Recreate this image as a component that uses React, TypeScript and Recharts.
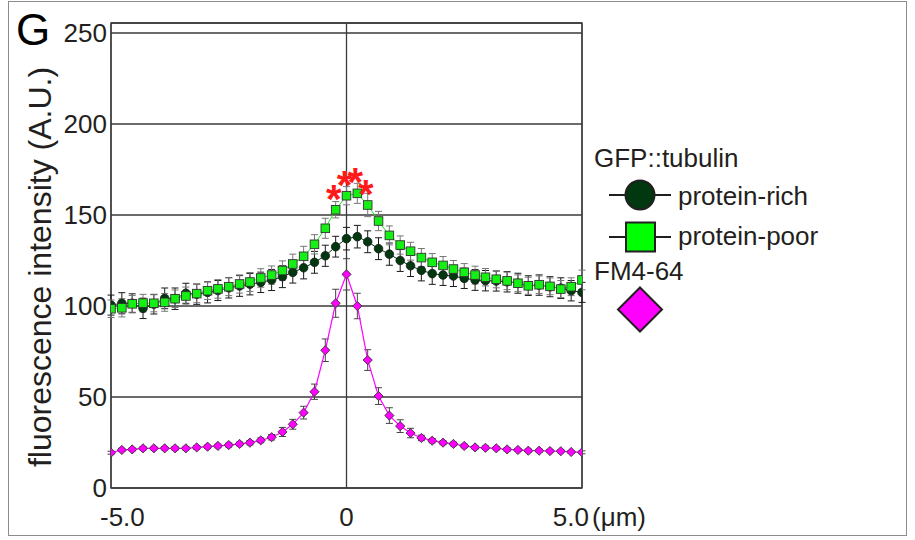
import {
  CartesianGrid,
  ComposedChart,
  ErrorBar,
  LabelList,
  Line,
  ReferenceArea,
  XAxis,
  YAxis,
} from "recharts";

// distance from the membrane (µm), 45 sampling points
const xs = [
  -5.0, -4.77, -4.55, -4.32, -4.09, -3.86, -3.64, -3.41, -3.18, -2.95, -2.73,
  -2.5, -2.27, -2.05, -1.82, -1.59, -1.36, -1.14, -0.91, -0.68, -0.45, -0.23,
  0, 0.23, 0.45, 0.68, 0.91, 1.14, 1.36, 1.59, 1.82, 2.05, 2.27, 2.5, 2.73,
  2.95, 3.18, 3.41, 3.64, 3.86, 4.09, 4.32, 4.55, 4.77, 5.0,
];

// GFP::tubulin, protein-rich
const rich = [
  100.5, 101.5, 101.5, 98.7, 101, 104.2, 104, 107, 106.5, 107.5, 108.5, 110,
  111, 112, 113, 114.3, 116.1, 118.5, 121, 124, 127.6, 132.6, 137, 138.1,
  135.3, 131.5, 128.5, 125, 122.1, 119.6, 117.8, 117, 116.5, 115.2, 114.3,
  113.9, 113.7, 113.3, 112.5, 111.2, 111.5, 110.6, 109.8, 108.4, 107.5,
];
const richErr = [
  5.5, 5.8, 5.2, 5.6, 5.4, 5.7, 5.9, 5.5, 5.6, 5.8, 5.5, 5.6, 5.7, 5.9, 5.6,
  5.8, 6.0, 5.9, 6.1, 6.0, 5.8, 5.7, 6.2, 6.2, 6.0, 6.0, 6.1, 6.0, 5.9, 5.8,
  5.9, 5.7, 5.8, 5.6, 5.7, 5.6, 5.5, 5.6, 5.5, 5.4, 5.6, 5.5, 5.7, 5.6, 5.5,
];

// GFP::tubulin, protein-poor
const poor = [
  98.5, 99, 101.2, 101.6, 101.5, 102, 104, 105.5, 106.8, 108.4, 109.4, 110.6,
  112.1, 113.2, 115.4, 117, 119.5, 123.1, 127.3, 133.9, 142.7, 152.9, 160.6,
  161.9, 155.5, 146.7, 138.8, 133.5, 130.1, 126.6, 124, 122.3, 120.3, 118.5,
  117, 115.8, 114.7, 113.8, 112.5, 111.1, 111.7, 110.8, 109.3, 110.6, 114.3,
];
const poorErr = [
  4.8, 5.0, 4.6, 4.8, 4.7, 4.9, 4.8, 4.9, 5.0, 4.8, 5.1, 4.9, 5.0, 5.2, 5.1,
  5.0, 5.3, 5.4, 5.5, 5.3, 5.5, 4.5, 5.0, 5.5, 6.4, 5.3, 5.2, 5.0, 4.9, 5.0,
  4.8, 4.9, 4.7, 4.8, 4.9, 4.8, 4.7, 4.8, 4.6, 4.7, 4.8, 4.6, 4.7, 4.9, 5.4,
];

// FM4-64
const fm = [
  19.4, 20.9, 21.2, 21.8, 21.8, 21.8, 21.8, 21.8, 22.3, 22.7, 23.1, 23.6, 24.2,
  24.9, 26.2, 27.9, 30.8, 35.0, 41.4, 52.9, 75.7, 101.5, 117.4, 100.0, 70.3,
  50.5, 39.8, 34.0, 30.2, 27.5, 26.0, 24.9, 24.2, 23.1, 22.3, 22.1, 21.8, 21.2,
  20.9, 20.5, 20.5, 20.3, 20.2, 19.8, 19.6,
];
const fmErr = [
  0.8, 0.9, 0.8, 0.9, 0.8, 0.9, 1.0, 0.9, 1.0, 0.9, 1.0, 1.1, 1.0, 1.2, 1.3,
  1.5, 2.5, 2.7, 3.5, 4.2, 6.2, 7.7, 8.6, 7.0, 5.7, 4.6, 4.3, 3.5, 2.6, 1.5,
  1.2, 1.1, 1.0, 1.0, 0.9, 1.0, 0.9, 0.9, 0.8, 0.9, 0.8, 0.9, 0.8, 0.8, 0.8,
];

// significance marks over protein-poor points
const starAt = [-0.23, 0, 0.23, 0.45];

const xTicks = [-5, 0, 5];
const yTicks = [0, 50, 100, 150, 200, 250];

const rows = xs.map((x, i) => ({
  x,
  rich: rich[i],
  richErr: richErr[i],
  poor: poor[i],
  poorErr: poorErr[i],
  fm: fm[i],
  fmErr: fmErr[i],
  sig: starAt.includes(x) ? "*" : "",
}));

const FONT = "'Liberation Sans', Arial, Helvetica, sans-serif";
const INK = "#231f20";
const GRID = "#3a3a3a";

const DarkDot = (p: any) => (
  <circle cx={p.cx} cy={p.cy} r={4.3} fill="#013810" stroke="#1a1a1a" strokeWidth={0.8} />
);
const GreenDot = (p: any) => (
  <rect x={p.cx - 4.3} y={p.cy - 4.3} width={8.6} height={8.6} fill="#14f014" stroke="#333" strokeWidth={0.9} />
);
const PinkDot = (p: any) => (
  <polygon
    points={`${p.cx},${p.cy - 4.6} ${p.cx + 4.6},${p.cy} ${p.cx},${p.cy + 4.6} ${p.cx - 4.6},${p.cy}`}
    fill="#ff00ff"
    stroke="#333"
    strokeWidth={0.9}
  />
);

function XTick({ x, y, payload }: any) {
  const v = payload.value;
  const anchor = v < 0 ? "start" : v > 0 ? "end" : "middle";
  const tx = v < 0 ? x - 11 : v > 0 ? x + 7 : x;
  return (
    <text x={tx} y={y + 38} textAnchor={anchor} fontSize={26} fill={INK} fontFamily={FONT}>
      {v === 0 ? "0" : v.toFixed(1)}
    </text>
  );
}

function Star({ x, y, value }: any) {
  if (!value) return null;
  return (
    <text x={x - 2} y={y + 3} textAnchor="middle" fontSize={40} fontWeight="bold" fill="#ff1a1a" fontFamily={FONT}>
      {value}
    </text>
  );
}

export default function App() {
  return (
    <div style={{ position: "absolute", left: 0, top: 0, width: 915, height: 540, background: "#fff" }}>
      <ComposedChart
        width={915}
        height={540}
        data={rows}
        margin={{ top: 23, right: 333, bottom: 22, left: 51 }}
      >
        <CartesianGrid stroke={GRID} strokeWidth={1.3} />
        <ReferenceArea x1={-5} x2={5} y1={0} y2={255.5} fill="none" stroke={GRID} strokeWidth={1.3} ifOverflow="visible" />
        <XAxis
          dataKey="x"
          type="number"
          domain={[-5, 5]}
          ticks={xTicks}
          allowDataOverflow
          axisLine={false}
          tickLine={false}
          tickSize={0}
          tickMargin={0}
          height={30}
          tick={<XTick />}
        />
        <YAxis
          type="number"
          domain={[0, 255.5]}
          ticks={yTicks}
          allowDataOverflow
          axisLine={false}
          tickLine={false}
          tickSize={0}
          tickMargin={4}
          width={60}
          tick={{ fontSize: 26, fill: INK, fontFamily: FONT }}
        />
        <Line
          dataKey="rich"
          stroke="#013810"
          strokeWidth={1}
          dot={<DarkDot />}
          activeDot={false}
          isAnimationActive={false}
        >
          <ErrorBar dataKey="richErr" direction="y" width={3.5} stroke="#1a1a1a" strokeWidth={1} />
        </Line>
        <Line
          dataKey="poor"
          stroke="#22dd22"
          strokeWidth={1}
          dot={<GreenDot />}
          activeDot={false}
          isAnimationActive={false}
        >
          <ErrorBar dataKey="poorErr" direction="y" width={3.5} stroke="#777" strokeWidth={1} />
          <LabelList dataKey="sig" content={<Star />} />
        </Line>
        <Line
          dataKey="fm"
          stroke="#ff00ff"
          strokeWidth={1.2}
          dot={<PinkDot />}
          activeDot={false}
          isAnimationActive={false}
        >
          <ErrorBar dataKey="fmErr" direction="y" width={3.5} stroke="#444" strokeWidth={1} />
        </Line>
      </ComposedChart>
      <svg
        width={915}
        height={540}
        style={{ position: "absolute", left: 0, top: 0, pointerEvents: "none" }}
        fontFamily={FONT}
      >
        <rect x={8.5} y={1.5} width={898} height={534} fill="none" stroke="#8c8c8c" strokeWidth={1} />
        <text x={16} y={45} fontSize={44} fill="#000">G</text>
        <text
          transform="translate(51,267) rotate(-90)"
          textAnchor="middle"
          fontSize={32}
          fill={INK}
        >
          fluorescence intensity (A.U.)
        </text>
        <text x={592} y={526} fontSize={26} fill={INK}>(μm)</text>
        <text x={594} y={167} fontSize={26} fill={INK}>GFP::tubulin</text>
        <line x1={609} x2={671} y1={195} y2={195} stroke={INK} strokeWidth={2} />
        <circle cx={640} cy={195} r={14.5} fill="#013810" stroke={INK} strokeWidth={2} />
        <text x={678} y={205} fontSize={26} fill={INK}>protein-rich</text>
        <line x1={609} x2={671} y1={237} y2={237} stroke={INK} strokeWidth={2} />
        <rect x={626} y={222.5} width={29} height={29} fill="#00ff00" stroke={INK} strokeWidth={2} />
        <text x={678} y={245} fontSize={26} fill={INK}>protein-poor</text>
        <text x={594} y={280} fontSize={26} fill={INK}>FM4-64</text>
        <polygon points="640,287.5 662,309.5 640,331.5 618,309.5" fill="#ff00ff" stroke={INK} strokeWidth={2} />
      </svg>
    </div>
  );
}
